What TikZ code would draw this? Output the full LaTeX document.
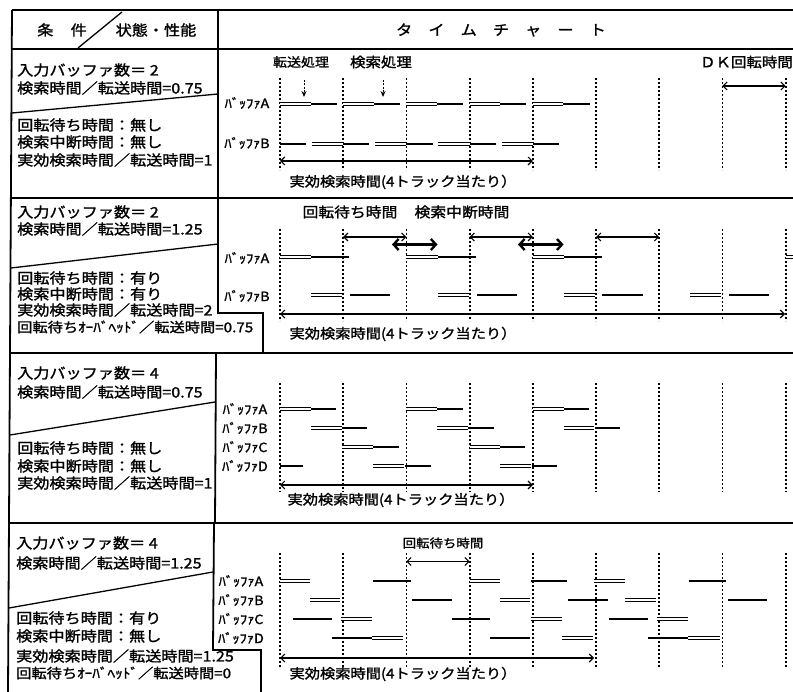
\documentclass[tikz,border=0pt]{standalone}
\usepackage{fontspec}
\setmainfont{Noto Sans CJK JP}
\newfontfamily\jpw{Noto Sans CJK JP}[FakeStretch=1.12,FakeBold=1.4]
\usetikzlibrary{arrows.meta}
\tikzset{
  frame/.style={line width=1.8pt},
  tick/.style={line width=1.8pt, dash pattern=on 1.6pt off 2.4pt},
  xfer/.style={double, double distance=2.6pt, line width=1pt},
  srch/.style={line width=2.8pt},
  dim/.style={line width=1.1pt, {Straight Barb[length=4pt,width=8pt]}-{Straight Barb[length=4pt,width=8pt]}},
  bigdim/.style={line width=2.4pt, {Straight Barb[length=5pt,width=11pt]}-{Straight Barb[length=5pt,width=11pt]}},
  downarr/.style={line width=0.9pt, dash pattern=on 2pt off 1.5pt, -{Stealth[length=6pt,width=5pt]}},
  txt/.style={inner sep=0pt, anchor=west, font=\jpw\fontsize{14.4}{16}\selectfont},
  hdr/.style={inner sep=0pt, font=\jpw\fontsize{14.4}{16}\selectfont},
  buf/.style={inner sep=0pt, font=\jpw\fontsize{12.8}{14}\selectfont},
  lbl/.style={inner sep=0pt, font=\jpw\fontsize{13.6}{15}\selectfont},
}
\newcommand\Dbl[3]{\draw[xfer] (#1,#3) -- (#2,#3);}
\newcommand\Srch[3]{\draw[srch] (#1,#3) -- (#2,#3);}
\begin{document}
\begin{tikzpicture}[x=1pt,y=-1pt]
\useasboundingbox (0,0) rectangle (793,692);
\fill[white] (0,0) rectangle (793,692);
% ---------- frame ----------
\draw[frame] (12,10) -- (793,10);
\draw[frame] (12,49) -- (793,49);
\draw[frame] (11,198) -- (793,198);
\draw[frame] (10,353) -- (793,353);
\draw[frame] (9,523) -- (793,523);
\draw[frame] (12,10) -- (8,692);
\draw[frame] (218,10) -- (218,313) -- (263,313) -- (263,353);
\draw[frame] (216,353) -- (215,523);
\draw[frame] (214,523) -- (213,650) -- (261,650) -- (261,692);
% header
\draw[line width=1.3pt] (78,48) -- (122,12);
\node[hdr] (hcond) at (62,30) {条\hspace{1.2em}件};
\node[hdr] (hstate) at (156,30) {状態・性能};
\node[hdr] (htime) at (501,30) {タ　イ　ム　チ　ャ　ー　ト};
% row diagonals
\draw[line width=1.3pt] (12,113) -- (218,94);
\draw[line width=1.3pt] (11,268) -- (218,244);
\draw[line width=1.3pt] (10,435) -- (215,402);
\draw[line width=1.3pt] (9,608) -- (213,572);
% ---------- left texts ----------
\node[txt] (c1a) at (17,70) {入力バッファ数＝ 2};
\node[txt] (c1b) at (17,88) {検索時間／転送時間=0.75};
\node[txt] (c1c) at (17,125) {回転待ち時間：無し};
\node[txt] (c1d) at (17,142) {検索中断時間：無し};
\node[txt] (c1e) at (17,160) {実効検索時間／転送時間=1};

\node[txt] (c2a) at (17,212) {入力バッファ数＝ 2};
\node[txt] (c2b) at (17,229) {検索時間／転送時間=1.25};
\node[txt] (c2c) at (17,278) {回転待ち時間：有り};
\node[txt] (c2d) at (17,294) {検索中断時間：有り};
\node[txt] (c2e) at (17,310) {実効検索時間／転送時間=2};
\node[txt, font=\jpw\fontsize{13.6}{15}\selectfont] (c2f) at (17,327) {回転待ちｵｰﾊﾞﾍｯﾄﾞ／転送時間=0.75};

\node[txt] (c3a) at (17,373) {入力バッファ数＝ 4};
\node[txt] (c3b) at (17,392) {検索時間／転送時間=0.75};
\node[txt] (c3c) at (17,448) {回転待ち時間：無し};
\node[txt] (c3d) at (17,466) {検索中断時間：無し};
\node[txt] (c3e) at (17,483) {実効検索時間／転送時間=1};

\node[txt] (c4a) at (16,543) {入力バッファ数＝ 4};
\node[txt] (c4b) at (16,563) {検索時間／転送時間=1.25};
\node[txt] (c4c) at (16,618) {回転待ち時間：有り};
\node[txt] (c4d) at (16,636) {検索中断時間：無し};
\node[txt] (c4e) at (16,656) {実効検索時間／転送時間=1.25};
\node[txt, font=\jpw\fontsize{13.6}{15}\selectfont] (c4f) at (16,673) {回転待ちｵｰﾊﾞﾍｯﾄﾞ／転送時間=0};

% ---------- dotted time lines ----------
\foreach \k in {0,...,8}{
  \draw[tick] ({280+63.2*\k},78) -- ({280+63.2*\k},170);
  \draw[tick] ({280+63.2*\k},229) -- ({280+63.2*\k},321);
  \draw[tick] ({280+63.2*\k},383) -- ({280+63.2*\k},492);
  \draw[tick] ({280+63.2*\k},553) -- ({280+63.2*\k},667);
}

% ---------- row 1 ----------
\node[lbl, font=\jpw\fontsize{12.5}{14}\selectfont] (t1a) at (301,62) {転送処理};
\node[lbl, font=\jpw\fontsize{13.8}{15}\selectfont] (t1b) at (381,62) {検索処理};
\node[lbl, font=\jpw\fontsize{13.8}{15}\selectfont, anchor=east] (t1c) at (793,62) {ＤＫ回転時間};
\coordinate (d1s) at (304,80); \coordinate (d1e) at (304,97);
\coordinate (d2s) at (383,80); \coordinate (d2e) at (383,97);
\draw[downarr] (d1s) -- (d1e);
\draw[downarr] (d2s) -- (d2e);
\coordinate (dk1) at (722.4,86); \coordinate (dk2) at (785.6,86);
\draw[dim] (dk1) -- (dk2);
\node[buf] (b1a) at (247,103) {ﾊﾞｯﾌｧA};
\node[buf] (b1b) at (247,143) {ﾊﾞｯﾌｧB};
\Dbl{280}{310.5}{104}\Srch{310.5}{337}{104}
\Dbl{343.2}{373.7}{104}\Srch{373.7}{400}{104}
\Dbl{406.4}{437}{104}\Srch{437}{463}{104}
\Dbl{469.6}{500}{104}\Srch{500}{526}{104}
\Dbl{532.8}{563.3}{104}\Srch{563.3}{590}{104}
\Srch{280}{306}{144}\Dbl{312}{343.2}{144}
\Srch{343.2}{369}{144}\Dbl{375}{406.4}{144}
\Srch{406.4}{432.5}{144}\Dbl{438}{469.6}{144}
\Srch{469.6}{496}{144}\Dbl{501.5}{532.8}{144}
\Srch{532.8}{559}{144}
\coordinate (e1a) at (280,161); \coordinate (e1b) at (532.8,161);
\draw[dim] (e1a) -- (e1b);
\node[lbl] (e1l) at (403,182) {実効検索時間(4トラック当たり）};

% ---------- row 2 ----------
\node[lbl, font=\jpw\fontsize{14.1}{16}\selectfont] (t2a) at (350,212) {回転待ち時間};
\node[lbl, font=\jpw\fontsize{14.1}{16}\selectfont] (t2b) at (462,212) {検索中断時間};
\draw[dim] (343.2,237) -- (406.4,237);
\draw[dim] (469.6,237) -- (532.8,237);
\draw[dim] (596,237) -- (659.2,237);
\draw[bigdim] (392,244.5) -- (437.5,244.5);
\draw[bigdim] (518,244.5) -- (563.6,244.5);
\node[buf] (b2a) at (247,258) {ﾊﾞｯﾌｧA};
\node[buf] (b2b) at (247,296) {ﾊﾞｯﾌｧB};
\Dbl{280}{311}{257}\Srch{311}{349}{257}
\Dbl{406.4}{438}{257}\Srch{438}{476}{257}
\Dbl{532.8}{564}{257}\Srch{564}{602}{257}
\Dbl{785.6}{795}{257}
\Dbl{311}{342}{295}\Srch{350}{390}{295}
\Dbl{438}{469}{295}\Srch{477}{517}{295}
\Dbl{564}{595}{295}\Srch{602}{643}{295}
\Dbl{690}{721}{295}\Srch{729}{769}{295}
\coordinate (e2a) at (280,314); \coordinate (e2b) at (785,314);
\draw[dim] (e2a) -- (e2b);
\node[lbl] (e2l) at (403,334) {実効検索時間(4トラック当たり）};

% ---------- row 3 ----------
\node[buf] (b3a) at (245,409) {ﾊﾞｯﾌｧA};
\node[buf] (b3b) at (245,428) {ﾊﾞｯﾌｧB};
\node[buf] (b3c) at (245,447) {ﾊﾞｯﾌｧC};
\node[buf] (b3d) at (245,466) {ﾊﾞｯﾌｧD};
\Dbl{280}{311}{409}\Srch{311}{336}{409}
\Dbl{406.4}{437}{409}\Srch{437}{462.5}{409}
\Dbl{532.8}{563.5}{409}\Srch{563.5}{589}{409}
\Dbl{311}{342}{428}\Srch{342}{367}{428}
\Dbl{437}{468}{428}\Srch{468}{494}{428}
\Dbl{563.5}{594}{428}\Srch{595}{620}{428}
\Dbl{342}{373}{447}\Srch{373}{399}{447}
\Dbl{469.6}{500}{447}\Srch{500}{525}{447}
\Srch{280}{303}{466}
\Dbl{373}{404}{466}\Srch{405}{431}{466}
\Dbl{500}{531}{466}\Srch{532}{557}{466}
\coordinate (e3a) at (280,485); \coordinate (e3b) at (532.8,485);
\draw[dim] (e3a) -- (e3b);
\node[lbl] (e3l) at (401,500) {実効検索時間(4トラック当たり）};

% ---------- row 4 ----------
\node[lbl, font=\jpw\fontsize{12}{14}\selectfont] (t4a) at (443,543) {回転待ち時間};
\draw[dim] (406.4,561.5) -- (469.6,561.5);
\node[buf] (b4a) at (241,581) {ﾊﾞｯﾌｧA};
\node[buf] (b4b) at (241,600) {ﾊﾞｯﾌｧB};
\node[buf] (b4c) at (241,619) {ﾊﾞｯﾌｧC};
\node[buf] (b4d) at (241,638) {ﾊﾞｯﾌｧD};
\Dbl{280}{310}{581}\Srch{373}{411}{581}
\Dbl{469.6}{500}{581}\Srch{531}{567}{581}
\Dbl{594}{625}{581}\Srch{688.5}{726}{581}
\Dbl{310}{340}{600}\Srch{412}{452}{600}
\Dbl{499.5}{530}{600}\Srch{568}{608}{600}
\Dbl{625}{656}{600}\Srch{728}{767}{600}
\Srch{293}{331.5}{619}\Dbl{341}{372}{619}
\Srch{452}{489.5}{619}\Dbl{531}{562}{619}
\Srch{609}{647.5}{619}\Dbl{657}{688}{619}
\Srch{331.5}{372}{638}\Dbl{372}{403}{638}
\Srch{489.5}{530}{638}\Dbl{562}{593}{638}
\Srch{648}{688}{638}\Dbl{688}{720}{638}
\coordinate (e4a) at (280,658); \coordinate (e4b) at (594,658);
\draw[dim] (e4a) -- (e4b);
\node[lbl] (e4l) at (403,674) {実効検索時間(4トラック当たり）};
\end{tikzpicture}
\end{document}
